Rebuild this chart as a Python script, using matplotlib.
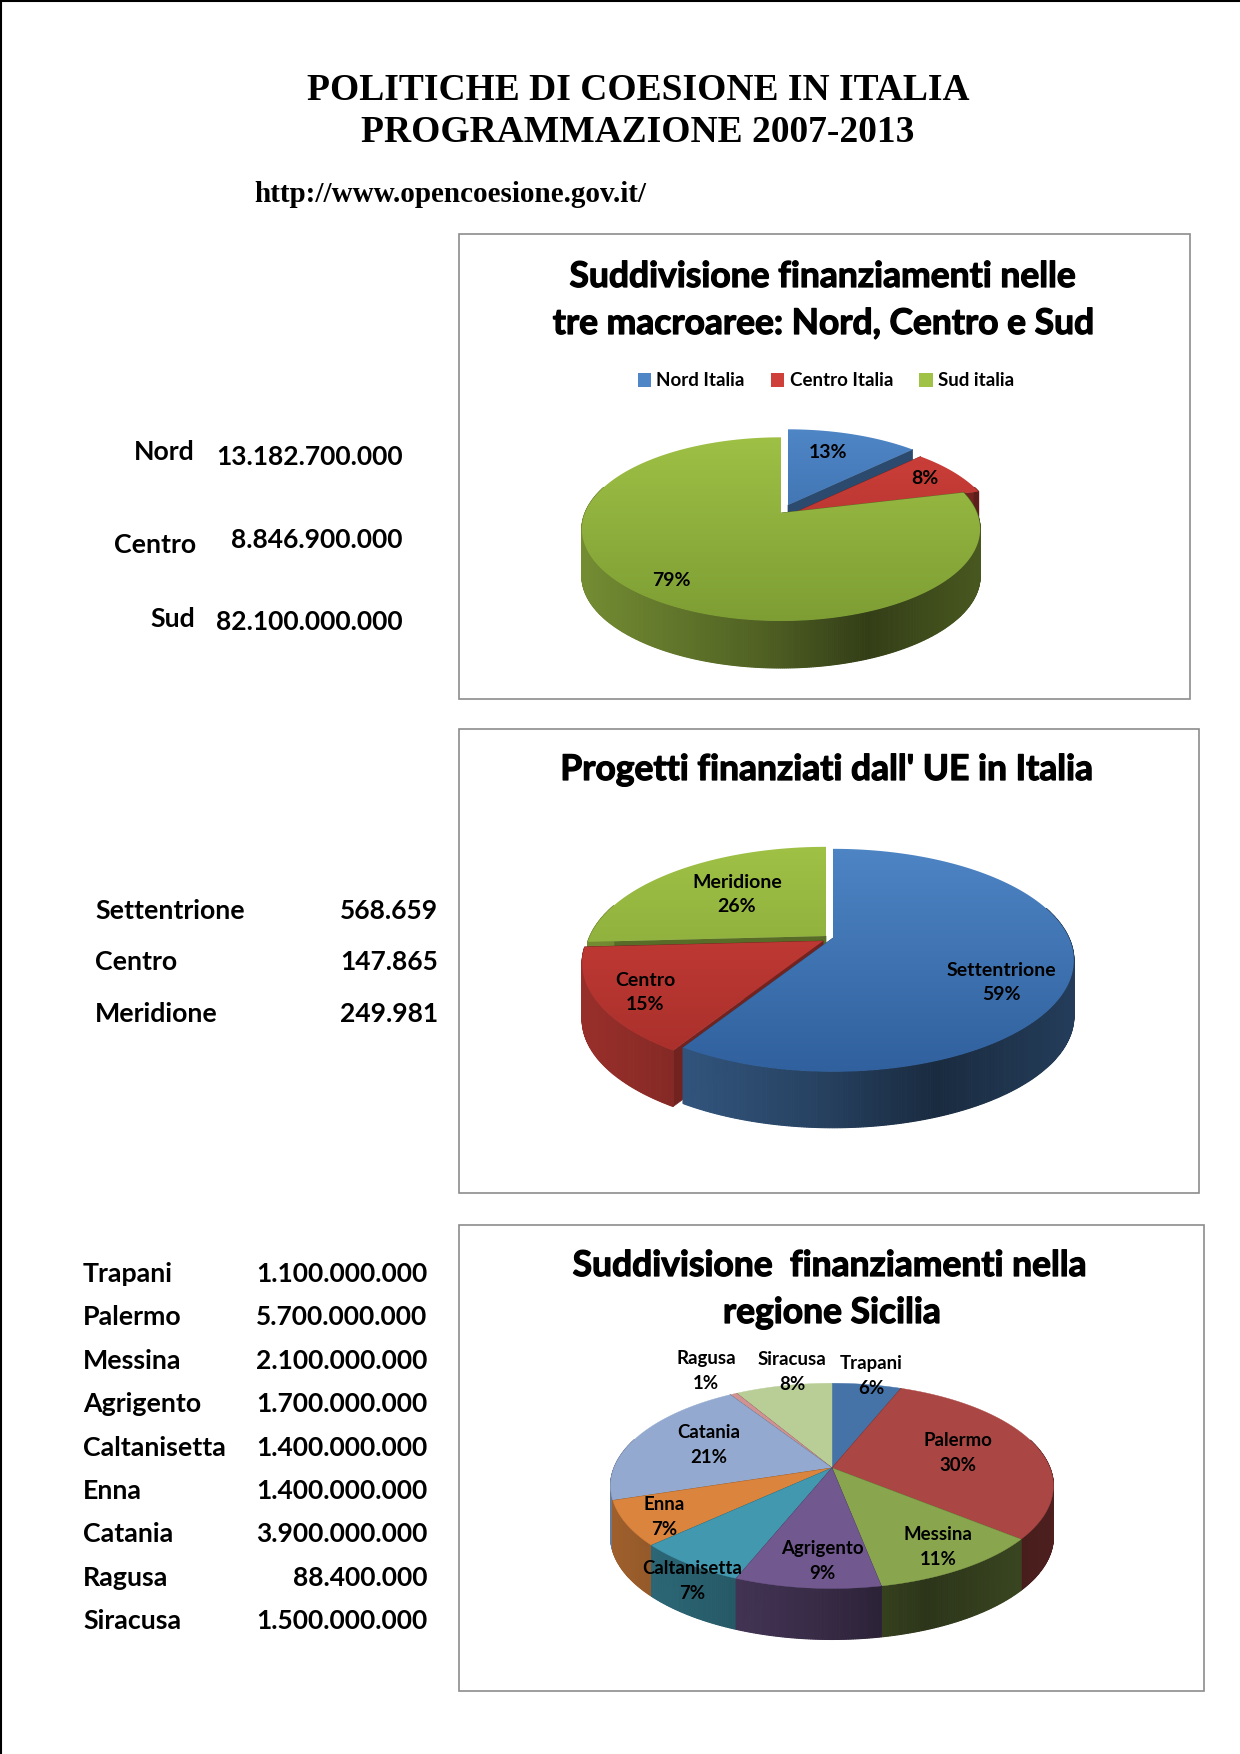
import numpy as np
import matplotlib
matplotlib.use('Agg')
import matplotlib.pyplot as plt
import matplotlib.patheffects as pe
from matplotlib.colors import LinearSegmentedColormap, to_rgb
from matplotlib.patches import Polygon, Patch, Rectangle

# dati
macro_names = ['Nord', 'Centro', 'Sud']
macro_values = [13182700000, 8846900000, 82100000000]
macro_legend = ['Nord Italia', 'Centro Italia', 'Sud italia']
macro_pct = ['13%', '8%', '79%']

prog_names = ['Settentrione', 'Centro', 'Meridione']
prog_values = [568659, 147865, 249981]
prog_pct = ['59%', '15%', '26%']

sic_names = ['Trapani', 'Palermo', 'Messina', 'Agrigento', 'Caltanisetta', 'Enna', 'Catania', 'Ragusa', 'Siracusa']
sic_values = [1100000000, 5700000000, 2100000000, 1700000000, 1400000000, 1400000000, 3900000000, 88400000, 1500000000]
sic_shares = [6, 30, 11, 9, 7, 7, 21, 0.6, 8.4]   # quote
sic_pct = ['6%', '30%', '11%', '9%', '7%', '7%', '21%', '1%', '8%']

# colori
tri_top = ['#4f86c6', '#d0403a', '#a0c246']
tri_bottom = ['#2f5f9c', '#a52e2a', '#7c9c33']
sic_colors = ['#4572a7', '#aa4643', '#89a54e', '#71588f', '#4198af', '#db843d', '#93a9cf', '#d19392', '#b9cd96']

FONT = 'Lato'
SERIF = 'Liberation Serif'
HEAVY = [pe.withStroke(linewidth=0.9, foreground='black')]

fig = plt.figure(figsize=(12.4, 17.54), dpi=100)
ax = fig.add_axes([0, 0, 1, 1])
ax.set_xlim(0, 1240)
ax.set_ylim(1754, 0)
ax.axis('off')
ax.autoscale(False)

zz = [10]


def next_z():
    zz[0] += 1
    return zz[0]


def fmt(v):
    return f'{v:,}'.replace(',', '.')


def project(theta, r, pie, apex):
    # disco visto in prospettiva, theta in gradi da ore 12 in senso orario
    cx, cy = apex
    t = np.radians(theta)
    u = r * np.sin(t)
    v = r * np.cos(t)
    d = 1 + pie['k'] * v
    return cx + pie['rx'] * u / d, cy - pie['ry'] * v / d


def draw_slice(t1, t2, top, bottom, pie, apex):
    th = np.linspace(t1, t2, max(int(t2 - t1) * 2, 6))
    x, y = project(th, 1, pie, apex)
    depth = pie['depth']
    low = np.array(to_rgb(top))

    # pareti radiali
    for t in (t1, t2):
        if t % 360 == 0:
            continue
        ex, ey = project(t, 1, pie, apex)
        ax.fill([apex[0], ex, ex, apex[0]], [apex[1], ey, ey + depth, apex[1] + depth],
                color=low * 0.55, lw=0.5, zorder=next_z())

    # lato esterno con sfumatura
    span = 2 * pie['rx']
    z = next_z()
    for i in range(len(th) - 1):
        if np.cos(np.radians(th[i])) > 0.3:
            continue
        pos = (x[i] - (pie['center'][0] - pie['rx'])) / span
        f = np.interp(pos, [0, 0.45, 0.72, 1], [0.72, 0.5, 0.32, 0.45])
        c = low * f
        ax.fill([x[i], x[i + 1], x[i + 1], x[i]], [y[i], y[i + 1], y[i + 1] + depth, y[i] + depth],
                color=c, lw=0.8, zorder=z)

    # faccia superiore
    xy = np.column_stack([np.r_[apex[0], x], np.r_[apex[1], y]])
    z = next_z()
    if top == bottom:
        ax.add_patch(Polygon(xy, closed=True, fc=top, ec=top, lw=0.3, zorder=z))
    else:
        yt = pie['center'][1] - pie['ry'] / (1 + pie['k']) - 10
        yb = pie['center'][1] + pie['ry'] / (1 - pie['k']) + 10
        cmap = LinearSegmentedColormap.from_list('g', [top, bottom])
        im = ax.imshow(np.linspace(0, 1, 256).reshape(-1, 1),
                       extent=(xy[:, 0].min() - 5, xy[:, 0].max() + 5, yb, yt),
                       cmap=cmap, aspect='auto', zorder=z)
        im.set_clip_path(Polygon(xy, closed=True, transform=ax.transData))


def draw_pie(shares, tops, bottoms, pie, apexes, order):
    edges = np.r_[0, np.cumsum(shares)] / np.sum(shares) * 360
    for i in order:
        draw_slice(edges[i], edges[i + 1], tops[i], bottoms[i], pie, apexes[i])


def panel(x0, y0, x1, y1):
    ax.add_patch(Rectangle((x0, y0), x1 - x0, y1 - y0, fc='white', ec='#8c8c8c', lw=1.2, zorder=1))


def chart_title(x, y, s):
    ax.text(x, y, s, family=FONT, weight='bold', fontsize=25.5, ha='center', va='center', path_effects=HEAVY)


# bordo pagina
ax.plot([1, 1], [0, 1754], color='black', lw=1.5, zorder=2)
ax.plot([0, 1240], [0.5, 0.5], color='black', lw=1.5, zorder=2)

# titolo
ax.text(638, 90, 'POLITICHE DI COESIONE IN ITALIA', family=SERIF, weight='bold', fontsize=27, ha='center', va='center')
ax.text(638, 132, 'PROGRAMMAZIONE 2007-2013', family=SERIF, weight='bold', fontsize=27, ha='center', va='center')
ax.text(254, 195, 'http://www.opencoesione.gov.it/', family=SERIF, weight='bold', fontsize=21, ha='left', va='center')

panel(459, 234, 1190, 699)
panel(459, 729, 1199, 1193)
panel(459, 1225, 1204, 1691)

# pannello 1
chart_title(823, 277, 'Suddivisione finanziamenti nelle')
chart_title(823, 324, 'tre macroaree: Nord, Centro e Sud')
handles = [Patch(fc=c, ec='none') for c in tri_top]
ax.legend(handles, macro_legend, ncols=3, loc='center', bbox_to_anchor=(826, 381), bbox_transform=ax.transData,
          frameon=False, prop={'family': FONT, 'weight': 'bold', 'size': 13.5}, handlelength=0.7, handleheight=0.7,
          handletextpad=0.3, columnspacing=1.4)
pie1 = dict(center=(781, 513), rx=196, ry=89, k=0.176, depth=47)
draw_pie(macro_values, tri_top, tri_bottom, pie1, [(788, 505), (796, 512), (781, 513)], [0, 1, 2])
for s, (x, y) in zip(macro_pct, [(828, 452), (925, 478), (671, 581)]):
    ax.text(x, y, s, family=FONT, weight='bold', fontsize=14, ha='center', va='center', zorder=500)

# pannello 2
chart_title(827, 770, "Progetti finanziati dall' UE in Italia")
pie2 = dict(center=(833, 938), rx=236, ry=107, k=0.2, depth=56)
draw_pie(prog_values, tri_top, tri_bottom, pie2, [(833, 938), (823, 941), (826, 936)], [2, 1, 0])
for s, p, (x, y) in zip(prog_names, prog_pct, [(1001, 982), (645, 992), (737, 895)]):
    ax.text(x, y, s + '\n' + p, family=FONT, weight='bold', fontsize=14, ha='center', va='center', zorder=500, linespacing=1.5)

# pannello 3
chart_title(830, 1266, 'Suddivisione  finanziamenti nella')
chart_title(832, 1313, 'regione Sicilia')
pie3 = dict(center=(832, 1468), rx=218, ry=99.5, k=0.174, depth=51)
sic_order = [0, 8, 7, 6, 1, 5, 2, 4, 3]
draw_pie(sic_shares, sic_colors, sic_colors, pie3, [(832, 1468)] * 9, sic_order)
sic_pos = [(871, 1376), (958, 1453), (938, 1547), (822, 1561), (692, 1581), (664, 1517), (709, 1445), (706, 1371), (792, 1372)]
for s, p, (x, y) in zip(sic_names, sic_pct, sic_pos):
    ax.text(x, y, s + '\n' + p, family=FONT, weight='bold', fontsize=13.4, ha='center', va='center', zorder=500, linespacing=1.6)

# tabelle a sinistra
for s, (x, y) in zip(macro_names, [(134, 452), (114, 545), (150, 619)]):
    ax.text(x, y, s, family=FONT, weight='bold', fontsize=19.3, ha='left', va='center')
for v, y in zip(macro_values, [457, 540, 622]):
    ax.text(403, y, fmt(v), family=FONT, weight='bold', fontsize=19, ha='right', va='center')

for s, v, y in zip(prog_names, prog_values, [911, 962, 1014]):
    ax.text(95, y, s, family=FONT, weight='bold', fontsize=19.3, ha='left', va='center')
    ax.text(438, y, fmt(v), family=FONT, weight='bold', fontsize=19, ha='right', va='center')

for i, (s, v) in enumerate(zip(sic_names, sic_values)):
    y = 1274 + i * 43.4
    ax.text(83, y, s, family=FONT, weight='bold', fontsize=19.3, ha='left', va='center')
    ax.text(427, y, fmt(v), family=FONT, weight='bold', fontsize=19, ha='right', va='center')

fig.savefig('out.png', dpi=100, facecolor='white')
